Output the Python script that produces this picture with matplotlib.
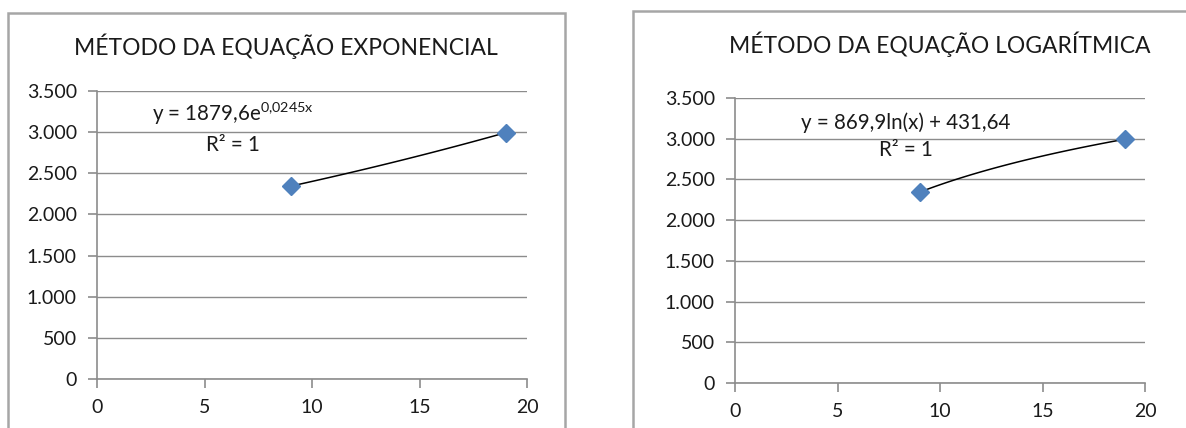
import numpy as np
import matplotlib
matplotlib.use("Agg")
import matplotlib.pyplot as plt
from matplotlib.patches import Rectangle
from matplotlib.ticker import FuncFormatter

# data points (same for both charts)
x_vals = [9, 19]
y_vals = [2343, 2993]

titles = ["MÉTODO DA EQUAÇÃO EXPONENCIAL", "MÉTODO DA EQUAÇÃO LOGARÍTMICA"]
eq_texts = [r"y = 1879,6e$^{\mathrm{0{,}0245x}}$", "y = 869,9ln(x) + 431,64"]
r2_text = "R² = 1"
x_ticks = [0, 5, 10, 15, 20]
y_ticks = [0, 500, 1000, 1500, 2000, 2500, 3000, 3500]

plt.rcParams['font.family'] = ['Lato', 'DejaVu Sans']
plt.rcParams['mathtext.fontset'] = 'custom'
plt.rcParams['mathtext.rm'] = 'Lato'
plt.rcParams['mathtext.it'] = 'Lato'

W, H = 1186, 428
fig = plt.figure(figsize=(W / 100, H / 100), dpi=100)

GRID = '#8c8c8c'
BLUE = '#4f81bd'


def px_axes(x0, y0, x1, y1):
    return fig.add_axes([x0 / W, 1 - y1 / H, (x1 - x0) / W, (y1 - y0) / H])


def frame(x0, y0, x1, y1):
    fig.add_artist(Rectangle((x0 / W, 1 - y1 / H), (x1 - x0) / W, (y1 - y0) / H,
                             transform=fig.transFigure, fill=False,
                             edgecolor='#a6a6a6', linewidth=1.8))


def thousands(v, pos):
    return f"{int(v):,}".replace(",", ".")


frame(8, 13, 565, 440)
frame(633, 11, 1200, 440)

boxes = [(97, 91, 527, 379), (735, 98, 1145, 383)]
title_pos = [(286, 46), (940, 44)]
eq_pos = [((233, 114), (233, 145)), ((906, 123), (906, 150))]

xs = np.array(x_vals, dtype=float)
ys = np.array(y_vals, dtype=float)
xf = np.linspace(xs.min(), xs.max(), 60)
# exponential fit
b_e, ln_a = np.polyfit(xs, np.log(ys), 1)
fit_exp = np.exp(ln_a) * np.exp(b_e * xf)
# logarithmic fit
a_l, c_l = np.polyfit(np.log(xs), ys, 1)
fit_log = a_l * np.log(xf) + c_l
fits = [fit_exp, fit_log]

for i in range(2):
    ax = px_axes(*boxes[i])
    ax.set_xlim(0, 20)
    ax.set_ylim(0, 3500)
    ax.set_xticks(x_ticks)
    ax.set_yticks(y_ticks)
    ax.yaxis.set_major_formatter(FuncFormatter(thousands))
    ax.grid(axis='y', color=GRID, linewidth=1.0)
    ax.set_axisbelow(True)
    for s in ['top', 'right']:
        ax.spines[s].set_visible(False)
    for s in ['left', 'bottom']:
        ax.spines[s].set_color(GRID)
        ax.spines[s].set_linewidth(1.2)
    ax.tick_params(axis='both', colors=GRID, length=6.5, width=1.2,
                   labelcolor='#1a1a1a', labelsize=14)
    ax.tick_params(axis='y', pad=8)
    ax.tick_params(axis='x', pad=8)
    ax.plot(xf, fits[i], color='black', linewidth=1.1, zorder=3)
    ax.plot(x_vals, y_vals, linestyle='none', marker='D', markersize=9,
            color=BLUE, zorder=4, clip_on=False)

    tx, ty = title_pos[i]
    fig.text(tx / W, 1 - ty / H, titles[i], ha='center', va='center',
             fontsize=16.5, color='#1a1a1a')
    (ex, ey), (rx, ry) = eq_pos[i]
    fig.text(ex / W, 1 - ey / H, eq_texts[i], ha='center', va='center',
             fontsize=14.8, color='#1a1a1a')
    fig.text(rx / W, 1 - ry / H, r2_text, ha='center', va='center',
             fontsize=14.8, color='#1a1a1a')

fig.savefig("out.png", dpi=100)
